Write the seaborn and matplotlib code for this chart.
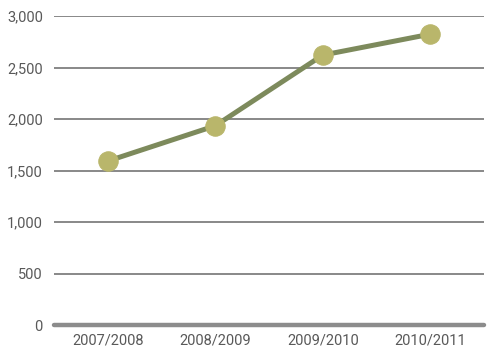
import matplotlib
matplotlib.use("Agg")
import matplotlib.pyplot as plt
import seaborn as sns
import pandas as pd
from matplotlib.ticker import FuncFormatter

seasons = ["2007/2008", "2008/2009", "2009/2010", "2010/2011"]
values = [1592, 1935, 2622, 2825]
yticks = [0, 500, 1000, 1500, 2000, 2500, 3000]

sns.set_style("white")
plt.rcParams['font.family'] = ['Roboto', 'DejaVu Sans']

df = pd.DataFrame({"season": seasons, "value": values})

fig = plt.figure(figsize=(4.9, 3.51), dpi=100)
ax = fig.add_axes([0.110, 0.074, 0.878, 0.880])

sns.lineplot(data=df, x="season", y="value", ax=ax, color="#7d8a5c", linewidth=3.6,
             marker="o", markersize=14, markerfacecolor="#b9b66b", markeredgecolor="#b9b66b",
             sort=False, zorder=3)

ax.set_xlim(-0.5, 3.5)
ax.set_ylim(0, 3000)
ax.set_yticks(yticks)
ax.yaxis.set_major_formatter(FuncFormatter(lambda v, p: f"{int(v):,}"))
for y in yticks[1:]:
    ax.axhline(y, color="#7f7f7f", linewidth=1.3, zorder=1)
ax.axhline(0, color="#8c8c8c", linewidth=3.2, zorder=2, clip_on=False)
for s in ax.spines.values():
    s.set_visible(False)
ax.tick_params(axis="both", length=0, labelsize=10.5, labelcolor="#595959")
ax.tick_params(axis="y", pad=8)
ax.tick_params(axis="x", pad=6)
ax.set_xlabel("")
ax.set_ylabel("")
ax.grid(False)

fig.savefig("out.png", dpi=100)
